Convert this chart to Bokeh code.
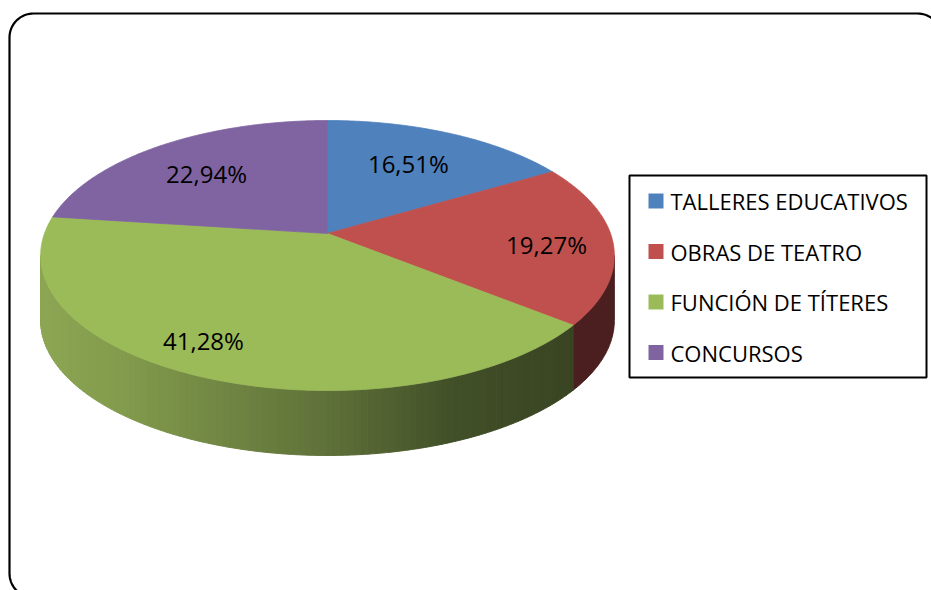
import numpy as np
from bokeh.plotting import figure
from bokeh.models import Range1d
from bokeh.core.properties import value
from bokeh.embed import file_html
from bokeh.resources import INLINE

# ---------------- data ----------------
categories = ["TALLERES EDUCATIVOS", "OBRAS DE TEATRO", "FUNCIÓN DE TÍTERES", "CONCURSOS"]
percent = [16.51, 19.27, 41.28, 22.94]
top_colors = ["#4F81BD", "#C0504D", "#9BBB59", "#8064A2"]

# ---------------- layout / style ----------------
CX, CY = 327.0, 233.0        # projected pie centre (screen px)
A, B, K = 283.0, 131.4, 0.163  # perspective ellipse parameters
DEPTH = 65.0
LABEL_R = [0.662, 0.768, 0.816, 0.676]   # label radius (fraction)
LABEL_DA = [1.5, -2.1, -5.2, 1.8]        # label angle offset (deg)
FONT = "Open Sans"

# side shading stops: screen x -> rgb
green_stops_x = [40, 120, 330, 450, 575]
green_stops_c = [(140, 166, 84), (130, 155, 76), (94, 112, 57), (66, 80, 40), (57, 68, 34)]
red_side = "#4B1F20"


def proj(theta_deg, r=1.0, dz=0.0):
    t = np.radians(theta_deg)
    X = r * np.cos(t)
    Y = r * np.sin(t)
    d = 1.0 + K * Y
    return CX + A * X / d, CY - B * Y / d + dz


def green_shade(x):
    rgb = [np.interp(x, green_stops_x, [c[i] for c in green_stops_c]) for i in range(3)]
    return "#%02x%02x%02x" % tuple(int(round(v)) for v in rgb)


p = figure(width=931, height=590, x_range=Range1d(0, 931), y_range=Range1d(590, 0),
           output_backend="svg", toolbar_location=None, min_border=0)
p.axis.visible = False
p.grid.visible = False
p.outline_line_color = None
p.background_fill_color = "white"
p.border_fill_color = "white"

# ------------- rounded outer frame -------------
fx0, fy0, fx1, fy1, fr = 9.0, 13.0, 941.0, 597.0, 24.0
def arc(cx, cy, a0, a1, n=20):
    a = np.radians(np.linspace(a0, a1, n))
    return list(cx + fr * np.cos(a)), list(cy + fr * np.sin(a))
fxs, fys = [], []
for (cx, cy, a0, a1) in [(fx0 + fr, fy0 + fr, 180, 270), (fx1 - fr, fy0 + fr, 270, 360),
                         (fx1 - fr, fy1 - fr, 0, 90), (fx0 + fr, fy1 - fr, 90, 180)]:
    ax, ay = arc(cx, cy, a0, a1)
    fxs += ax
    fys += ay
fxs.append(fxs[0]); fys.append(fys[0])
p.line(fxs, fys, line_color="black", line_width=2.2)

# ------------- slices angles -------------
cum = np.concatenate([[0.0], np.cumsum(percent)]) / np.sum(percent) * 360.0
th_start = 90.0 - cum[:-1]
th_end = 90.0 - cum[1:]

# visible front side between silhouette tangents
kdeg = np.degrees(np.arcsin(K))
vis_lo, vis_hi = -180.0 + kdeg, -kdeg

side_xs, side_ys, side_cols = [], [], []
for i in range(len(percent)):
    for shift in (-720, -360, 0, 360, 720):
        lo = max(th_end[i] + shift, vis_lo)
        hi = min(th_start[i] + shift, vis_hi)
        if hi <= lo:
            continue
        if i == 2:
            nstrip = 110
            edges = np.linspace(hi, lo, nstrip + 1)
            for j in range(nstrip):
                tt = np.linspace(edges[j], edges[j + 1], 4)
                tx, ty = proj(tt)
                bx, by = proj(tt[::-1], dz=DEPTH)
                xs = list(tx) + list(bx)
                ys = list(ty) + list(by)
                side_xs.append(xs); side_ys.append(ys)
                side_cols.append(green_shade(np.mean(tx)))
        else:
            tt = np.linspace(hi, lo, 60)
            tx, ty = proj(tt)
            bx, by = proj(tt[::-1], dz=DEPTH)
            side_xs.append(list(tx) + list(bx)); side_ys.append(list(ty) + list(by))
            side_cols.append(red_side if i == 1 else top_colors[i])

p.patches(side_xs, side_ys, fill_color=side_cols, line_color=side_cols, line_width=1)

# ------------- top faces -------------
top_xs, top_ys = [], []
for i in range(len(percent)):
    n = max(8, int(abs(th_start[i] - th_end[i]) * 1.5))
    tt = np.linspace(th_start[i], th_end[i], n)
    ax, ay = proj(tt)
    top_xs.append([CX] + list(ax))
    top_ys.append([CY] + list(ay))
p.patches(top_xs, top_ys, fill_color=top_colors, line_color=top_colors, line_width=0.8)

# ------------- data labels -------------
mid = (th_start + th_end) / 2.0
lx, ly, ltxt = [], [], []
for i in range(len(percent)):
    x, y = proj(mid[i] + LABEL_DA[i], r=LABEL_R[i])
    lx.append(float(x)); ly.append(float(y))
    ltxt.append(("%.2f" % percent[i]).replace(".", ",") + "%")
p.text(lx, ly, text=ltxt, text_align="center", text_baseline="middle",
       text_font=value(FONT), text_font_size=value("24px"), text_color="black")

# ------------- legend -------------
LX0, LY0, LX1, LY1 = 629.0, 175.0, 926.0, 377.0
p.quad(left=[LX0], right=[LX1], top=[LY0], bottom=[LY1], fill_color="white",
       line_color="black", line_width=2)
row_y = [LY0 + 25.5 + 50.5 * i for i in range(len(categories))]
p.rect(x=[655.5] * len(categories), y=row_y, width=15, height=15,
       fill_color=top_colors, line_color=None)
p.text([670.0] * len(categories), row_y, text=categories, text_align="left",
       text_baseline="middle", text_font=value(FONT), text_font_size=value("22px"),
       text_color="black")

open("out.html", "w").write(file_html(p, INLINE))
